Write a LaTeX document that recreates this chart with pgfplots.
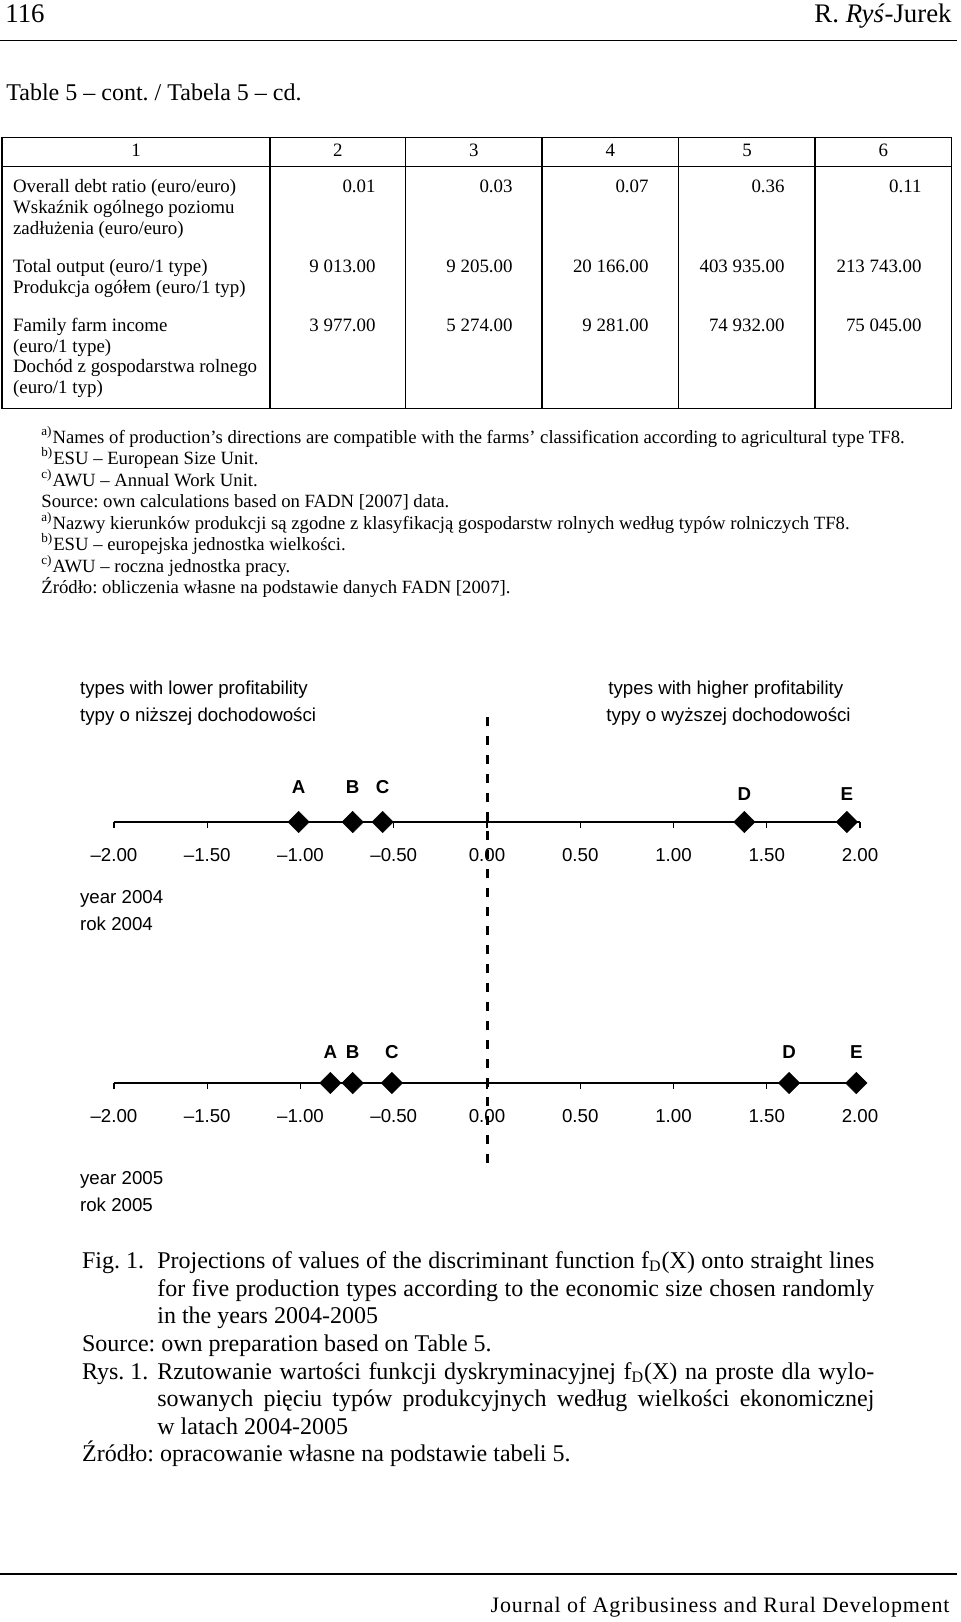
\documentclass[border=0pt]{standalone}
\usepackage{fontspec}
\setmainfont{Liberation Serif}
\setsansfont{Liberation Sans}
\newfontfamily\journalfont[LetterSpace=4]{Liberation Serif}
\usepackage{pgfplots}
\pgfplotsset{compat=1.18}

\newcommand\hdfont{\fontsize{13.4}{15}\selectfont}
\newcommand\tbfont{\fontsize{9.45}{11}\selectfont}
\newcommand\fnfont{\fontsize{9.35}{11}\selectfont}
\newcommand\cpfont{\fontsize{12}{14}\selectfont}
\newcommand\chfont{\sffamily\fontsize{9.35}{11}\selectfont}

\pgfplotsset{
  numline/.style={
    x=93.25pt, y=0.5pt,
    xmin=-2, xmax=2, ymin=0, ymax=10,
    axis x line=bottom, axis y line=none,
    x axis line style={-, line width=1.3pt},
    xtick={-2,-1.5,-1,-0.5,0,0.5,1,1.5,2},
    xticklabels={–2.00,–1.50,–1.00,–0.50,0.00,0.50,1.00,1.50,2.00},
    tick align=outside, major tick length=3pt,
    every tick/.style={black, line width=0.6pt},
    xticklabel style={font=\chfont, inner sep=0pt},
    xticklabel shift=10pt,
    ytick=\empty,
    clip=false,
  },
  pts/.style={only marks, mark=square*, mark size=3.8pt,
    mark options={rotate=45, fill=black, draw=black, line width=0.2pt},
    nodes near coords, point meta=explicit symbolic,
    every node near coord/.append style={font=\chfont\bfseries, inner sep=0pt, yshift=#1}},
}

\newcommand\tl[2]{\node[anchor=base west, inner sep=0] at (12.7,#1) {\tbfont #2};}
\newcommand\fn[2]{\node[anchor=base west, inner sep=0] at (41,#1) {\fnfont #2};}

\begin{document}
\frenchspacing
\begin{tikzpicture}
\begin{scope}[x=0.5pt,y=-0.5pt]
\fill[white] (0,0) rectangle (960,1622);
\useasboundingbox (0,0) rectangle (960,1622);
% header
\node[anchor=base west, inner sep=0] at (5,23) {\hdfont 116};
\node[anchor=base east, inner sep=0] at (952,23) {\hdfont R. \textit{Ryś}-Jurek};
\draw[line width=0.8pt] (0,40.5) -- (957,40.5);
\node[anchor=base west, inner sep=0] at (6,100.5) {\fontsize{12}{14}\selectfont Table 5 – cont. / Tabela 5 – cd.};
% table frame
\draw[line width=0.7pt] (2,137.5) rectangle (951.5,408.5);
\draw[line width=0.7pt] (2,166.5) -- (951.5,166.5);
\foreach \cx in {270,405.5,542,678.5,815} \draw[line width=0.7pt] (\cx,137.5) -- (\cx,408.5);
\foreach \cx/\t in {136/1,337.8/2,473.8/3,610.3/4,747/5,883.3/6}
  \node[anchor=base, inner sep=0] at (\cx,156.5) {\tbfont \t};
% row labels
\tl{192.7}{Overall debt ratio (euro/euro)}
\tl{213.3}{Wskaźnik ogólnego poziomu}
\tl{234}{zadłużenia (euro/euro)}
\tl{272.3}{Total output (euro/1 type)}
\tl{293}{Produkcja ogółem (euro/1 typ)}
\tl{331.3}{Family farm income}
\tl{352}{(euro/1 type)}
\tl{372.7}{Dochód z gospodarstwa rolnego}
\tl{393.3}{(euro/1 typ)}
% values
\foreach \cx/\a/\b/\c in {376/0.01/9 013.00/3 977.00, 513/0.03/9 205.00/5 274.00, 649/0.07/20 166.00/9 281.00,
  785/0.36/403 935.00/74 932.00, 922/0.11/213 743.00/75 045.00}{
  \node[anchor=base east, inner sep=0] at (\cx,192.7) {\tbfont \a};
  \node[anchor=base east, inner sep=0] at (\cx,272.3) {\tbfont \b};
  \node[anchor=base east, inner sep=0] at (\cx,331.3) {\tbfont \c};
}
% footnotes
\fn{443}{\textsuperscript{a)}Names of production’s directions are compatible with the farms’ classification according to agricultural type TF8.}
\fn{464.5}{\textsuperscript{b)}ESU – European Size Unit.}
\fn{486}{\textsuperscript{c)}AWU – Annual Work Unit.}
\fn{507.5}{Source: own calculations based on FADN [2007] data.}
\fn{529}{\textsuperscript{a)}Nazwy kierunków produkcji są zgodne z klasyfikacją gospodarstw rolnych według typów rolniczych TF8.}
\fn{550.5}{\textsuperscript{b)}ESU – europejska jednostka wielkości.}
\fn{572}{\textsuperscript{c)}AWU – roczna jednostka pracy.}
\fn{593.5}{Źródło: obliczenia własne na podstawie danych FADN [2007].}
% chart texts
\node[anchor=base west, inner sep=0] at (79.7,694) {\chfont types with lower profitability};
\node[anchor=base west, inner sep=0] at (79.7,721) {\chfont typy o niższej dochodowości};
\node[anchor=base west, inner sep=0] at (608,694) {\chfont types with higher profitability};
\node[anchor=base west, inner sep=0] at (606,721) {\chfont typy o wyższej dochodowości};
\node[anchor=base west, inner sep=0] at (79.7,903) {\chfont year 2004};
\node[anchor=base west, inner sep=0] at (79.7,930.5) {\chfont rok 2004};
\node[anchor=base west, inner sep=0] at (79.7,1184) {\chfont year 2005};
\node[anchor=base west, inner sep=0] at (79.7,1211) {\chfont rok 2005};
% caption
\node[anchor=base west, inner sep=0] at (81.7,1268) {\cpfont Fig. 1.};
\node[anchor=base west, inner sep=0] at (157,1268) {\cpfont\makebox[358.5pt][s]{Projections of values of the discriminant function f\textsubscript{D}(X) onto straight lines}};
\node[anchor=base west, inner sep=0] at (157,1296) {\cpfont\makebox[358.5pt][s]{for five production types according to the economic size chosen randomly}};
\node[anchor=base west, inner sep=0] at (157,1323.7) {\cpfont in the years 2004-2005};
\node[anchor=base west, inner sep=0] at (81.7,1351.5) {\cpfont Source: own preparation based on Table 5.};
\node[anchor=base west, inner sep=0] at (81.7,1379) {\cpfont Rys. 1.};
\node[anchor=base west, inner sep=0] at (157,1379) {\cpfont\makebox[358.5pt][s]{Rzutowanie wartości funkcji dyskryminacyjnej f\textsubscript{D}(X) na proste dla wylo-}};
\node[anchor=base west, inner sep=0] at (157,1406.7) {\cpfont\makebox[358.5pt][s]{sowanych pięciu typów produkcyjnych według wielkości ekonomicznej}};
\node[anchor=base west, inner sep=0] at (157,1434.3) {\cpfont w latach 2004-2005};
\node[anchor=base west, inner sep=0] at (81.7,1461.7) {\cpfont Źródło: opracowanie własne na podstawie tabeli 5.};
% footer
\draw[line width=1pt] (0,1573.5) -- (957,1573.5);
\node[anchor=base east, inner sep=0] at (950,1612) {\journalfont\fontsize{11}{13}\selectfont Journal of Agribusiness and Rural Development};
\end{scope}

% year 2004
\begin{axis}[numline, at={(57pt,-411pt)}, anchor=south west]
\addplot[pts=14.3pt] coordinates {(-1.01,0)[A] (-0.72,0)[B] (-0.56,0)[C]};
\addplot[pts=10.65pt] coordinates {(1.38,0)[D] (1.93,0)[E]};
\draw[line width=1.5pt, dash pattern=on 4.5pt off 5pt] (axis cs:0,105) -- (axis cs:0,-345);
\end{axis}
% year 2005
\begin{axis}[numline, at={(57pt,-541.5pt)}, anchor=south west]
\addplot[pts=12pt] coordinates {(-0.84,0)[A] (-0.72,0)[B] (-0.51,0)[C] (1.62,0)[D] (1.98,0)[E]};
\end{axis}
\end{tikzpicture}
\end{document}
